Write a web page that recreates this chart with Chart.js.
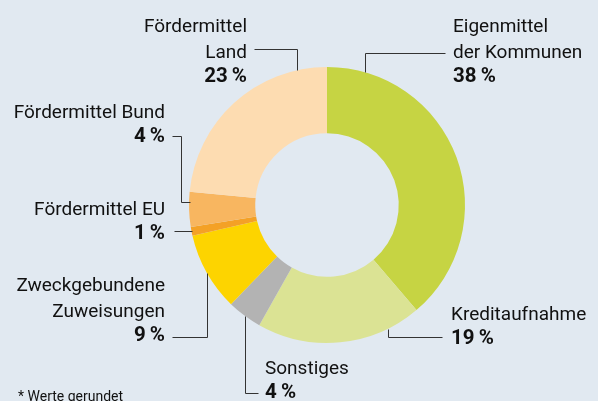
<!DOCTYPE html>
<html>
<head>
<meta charset="utf-8">
<script src="https://cdn.jsdelivr.net/npm/chart.js@4/dist/chart.umd.min.js"></script>
<style>
  html, body { margin: 0; padding: 0; background: #e1e9f1; }
  #wrap { width: 598px; height: 401px; position: relative; }
</style>
</head>
<body>
<div id="wrap"><canvas id="pie"></canvas></div>
<script>
const categories = ['Eigenmittel der Kommunen', 'Kreditaufnahme', 'Sonstiges', 'Zweckgebundene Zuweisungen', 'Fördermittel EU', 'Fördermittel Bund', 'Fördermittel Land'];
const shares = [38, 19, 4, 9, 1, 4, 23];
const labelLines = [
  ['Eigenmittel', 'der Kommunen'],
  ['Kreditaufnahme'],
  ['Sonstiges'],
  ['Zweckgebundene', 'Zuweisungen'],
  ['Fördermittel EU'],
  ['Fördermittel Bund'],
  ['Fördermittel', 'Land']
];
const colors = ['#c6d443', '#dbe394', '#b3b3b3', '#fdd400', '#f4a126', '#f8b660', '#fddcb1'];

// label placement: text anchor, alignment, leader path ('ring' = meet the outer edge)
const layout = [
  { x: 453, y: 32, align: 'left', path: [[445, 53], [365, 53], [365, 'ring']] },
  { x: 451, y: 320, align: 'left', path: [[442, 337], [388, 337], [388, 'ring']] },
  { x: 265, y: 374, align: 'left', path: [[258, 393], [245, 393], [245, 'ring']] },
  { x: 165, y: 291, align: 'right', path: [[172, 337], [207, 337], [207, 'ring']] },
  { x: 165, y: 215, align: 'right', path: [[174, 231], ['ring', 231]] },
  { x: 165, y: 118, align: 'right', path: [[172, 136], [181, 136], [181, 202], ['ring', 202]] },
  { x: 247, y: 32, align: 'right', path: [[254, 49], [297, 49], [297, 'ring']] }
];

const labelPlugin = {
  id: 'leaderLabels',
  afterDatasetsDraw(chart) {
    const ctx = chart.ctx;
    const arc = chart.getDatasetMeta(0).data[0];
    const cx = arc.x, cy = arc.y, r = arc.outerRadius;
    ctx.save();
    ctx.strokeStyle = '#333';
    ctx.lineWidth = 1;
    layout.forEach((l, i) => {
      ctx.beginPath();
      const below = l.path[l.path.length - 2][1] > cy;
      l.path.forEach((p, j) => {
        let px = p[0], py = p[1];
        if (py === 'ring') py = cy + (below ? 1 : -1) * Math.sqrt(r * r - (px - cx) * (px - cx));
        if (px === 'ring') px = cx - Math.sqrt(r * r - (py - cy) * (py - cy)) + 0.5;
        if (j === 0) ctx.moveTo(Math.round(px) + 0.5, Math.round(py) + 0.5);
        else ctx.lineTo(Math.round(px) + 0.5, Math.round(py) + 0.5);
      });
      ctx.stroke();

      ctx.fillStyle = '#111';
      ctx.textAlign = l.align;
      ctx.textBaseline = 'alphabetic';
      let y = l.y;
      ctx.font = '19px Roboto';
      labelLines[i].forEach(t => { ctx.fillText(t, l.x, y); y += 26; });
      ctx.font = 'bold 20.5px Roboto';
      ctx.fillText(shares[i] + '\u2009%', l.x, y - 2);
    });
    ctx.fillStyle = '#111';
    ctx.textAlign = 'left';
    ctx.font = '14px Roboto';
    ctx.fillText('* Werte gerundet', 18, 401);
    ctx.restore();
  }
};

new Chart(document.getElementById('pie'), {
  type: 'doughnut',
  data: {
    labels: categories,
    datasets: [{ data: shares, backgroundColor: colors, borderWidth: 0, hoverOffset: 0 }]
  },
  options: {
    responsive: true,
    maintainAspectRatio: false,
    animation: false,
    cutout: '52%',
    layout: { padding: { left: 189, right: 133, top: 67, bottom: 58 } },
    plugins: { legend: { display: false }, tooltip: { enabled: false } }
  },
  plugins: [labelPlugin]
});
</script>
</body>
</html>
